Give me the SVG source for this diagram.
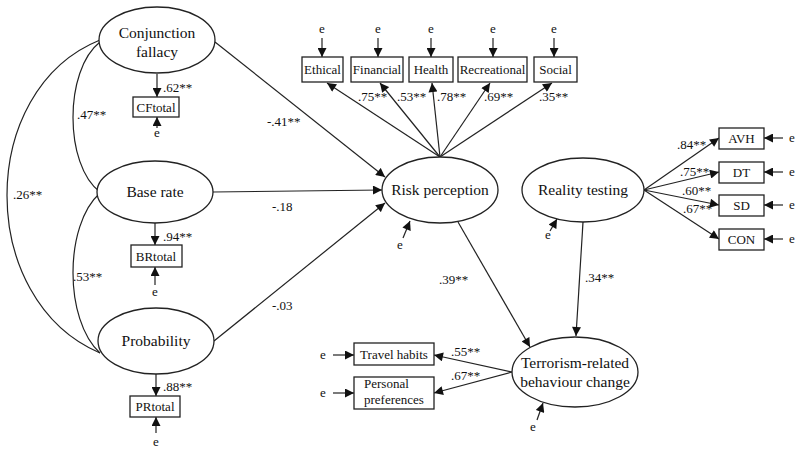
<svg xmlns="http://www.w3.org/2000/svg" width="800" height="452" viewBox="0 0 800 452" font-family="Liberation Serif, Times New Roman, DejaVu Serif, serif">
<defs>
<marker id="ah" viewBox="0 0 10 10" refX="10" refY="5" markerWidth="10" markerHeight="9" markerUnits="userSpaceOnUse" orient="auto">
<path d="M0,0 L10,5 L0,10 z" fill="#111"/>
</marker>
</defs>
<style>
.n{fill:#fff;stroke:#222;stroke-width:1.3}
.b{fill:#fff;stroke:#222;stroke-width:1.3}
.t{font-size:15.5px;text-anchor:middle;fill:#111}
.s{font-size:13px;text-anchor:middle;fill:#111}
.c{font-size:13px;fill:#111}
.l{fill:none;stroke:#222;stroke-width:1.2}
.a{fill:none;stroke:#222;stroke-width:1.2;marker-end:url(#ah)}
</style>
<rect width="800" height="452" fill="#fff"/>
<g id="connectors">
<path class="l" d="M100,40 C-24,90 -24,300 100,353"/>
<path class="l" d="M100,42 C64,70 64,165 100,192"/>
<path class="l" d="M100,193 C64,225 64,320 100,353"/>
<line class="a" x1="157" y1="74" x2="157" y2="97"/>
<line class="a" x1="157" y1="128" x2="157" y2="117"/>
<line class="a" x1="155" y1="223" x2="155" y2="245"/>
<line class="a" x1="155" y1="285" x2="155" y2="267"/>
<line class="a" x1="156" y1="373" x2="156" y2="396"/>
<line class="a" x1="156" y1="433" x2="156" y2="417"/>
<line class="a" x1="215" y1="42" x2="385" y2="177"/>
<line class="a" x1="213" y1="192" x2="382" y2="190"/>
<line class="a" x1="214" y1="341" x2="385" y2="203"/>
<line class="a" x1="440" y1="157" x2="327" y2="83"/>
<line class="a" x1="440" y1="157" x2="380" y2="83"/>
<line class="a" x1="440" y1="157" x2="432" y2="83"/>
<line class="a" x1="440" y1="157" x2="490" y2="83"/>
<line class="a" x1="440" y1="157" x2="552" y2="83"/>
<line class="a" x1="322" y1="38" x2="322" y2="57"/>
<line class="a" x1="378" y1="38" x2="378" y2="57"/>
<line class="a" x1="431" y1="38" x2="431" y2="57"/>
<line class="a" x1="493" y1="38" x2="493" y2="57"/>
<line class="a" x1="554" y1="38" x2="554" y2="57"/>
<line class="a" x1="403" y1="238" x2="410" y2="221"/>
<line class="a" x1="644" y1="190" x2="719" y2="138"/>
<line class="a" x1="644" y1="190" x2="719" y2="172"/>
<line class="a" x1="644" y1="190" x2="719" y2="205"/>
<line class="a" x1="644" y1="190" x2="719" y2="239"/>
<line class="a" x1="783" y1="138" x2="764" y2="138"/>
<line class="a" x1="783" y1="172" x2="764" y2="172"/>
<line class="a" x1="783" y1="205" x2="764" y2="205"/>
<line class="a" x1="783" y1="239" x2="764" y2="239"/>
<line class="a" x1="550" y1="231" x2="557" y2="219"/>
<line class="a" x1="458" y1="222" x2="530" y2="347"/>
<line class="a" x1="583" y1="222" x2="576" y2="336"/>
<line class="a" x1="512" y1="372" x2="434" y2="355"/>
<line class="a" x1="512" y1="372" x2="434" y2="393"/>
<line class="a" x1="333" y1="355" x2="354" y2="355"/>
<line class="a" x1="333" y1="393" x2="354" y2="393"/>
<line class="a" x1="537" y1="420" x2="543" y2="403"/>
</g>
<g id="labels">
<text class="c" x="163" y="92">.62**</text>
<text class="c" x="163" y="241">.94**</text>
<text class="c" x="163" y="391">.88**</text>
<text class="c" x="77" y="119">.47**</text>
<text class="c" x="13" y="199">.26**</text>
<text class="c" x="73" y="281">.53**</text>
<text class="c" x="267" y="126">-.41**</text>
<text class="c" x="272" y="211">-.18</text>
<text class="c" x="272" y="310">-.03</text>
<text class="c" x="358" y="101">.75**</text>
<text class="c" x="397" y="101">.53**</text>
<text class="c" x="437" y="101">.78**</text>
<text class="c" x="484" y="101">.69**</text>
<text class="c" x="539" y="101">.35**</text>
<text class="c" x="677" y="149">.84**</text>
<text class="c" x="680" y="176">.75**</text>
<text class="c" x="682" y="195">.60**</text>
<text class="c" x="683" y="213">.67**</text>
<text class="c" x="439" y="284">.39**</text>
<text class="c" x="585" y="282">.34**</text>
<text class="c" x="451" y="356">.55**</text>
<text class="c" x="451" y="380">.67**</text>
<text class="s" x="157" y="137">e</text>
<text class="s" x="155" y="296">e</text>
<text class="s" x="156" y="446">e</text>
<text class="s" x="322" y="33">e</text>
<text class="s" x="378" y="33">e</text>
<text class="s" x="431" y="33">e</text>
<text class="s" x="493" y="33">e</text>
<text class="s" x="554" y="33">e</text>
<text class="s" x="400" y="249">e</text>
<text class="s" x="548" y="239">e</text>
<text class="s" x="792" y="142">e</text>
<text class="s" x="792" y="176">e</text>
<text class="s" x="792" y="209">e</text>
<text class="s" x="792" y="243">e</text>
<text class="s" x="323" y="359">e</text>
<text class="s" x="323" y="397">e</text>
<text class="s" x="533" y="431">e</text>
</g>
<g id="conjunction-fallacy">
<ellipse class="n" cx="157" cy="40" rx="58" ry="33"/>
<text class="t" x="157" y="38">Conjunction</text>
<text class="t" x="157" y="57">fallacy</text>
</g>
<g id="cftotal">
<rect class="b" x="133" y="97" width="46" height="20"/>
<text class="s" x="156" y="112">CFtotal</text>
</g>
<g id="base-rate">
<ellipse class="n" cx="155" cy="192" rx="58" ry="31"/>
<text class="t" x="155" y="197">Base rate</text>
</g>
<g id="brtotal">
<rect class="b" x="131" y="245" width="51" height="22"/>
<text class="s" x="156" y="261">BRtotal</text>
</g>
<g id="probability">
<ellipse class="n" cx="156" cy="341" rx="58" ry="33"/>
<text class="t" x="156" y="346">Probability</text>
</g>
<g id="prtotal">
<rect class="b" x="130" y="396" width="50" height="21"/>
<text class="s" x="155" y="411">PRtotal</text>
</g>
<g id="risk-perception">
<ellipse class="n" cx="440" cy="190" rx="58" ry="33"/>
<text class="t" x="440" y="195">Risk perception</text>
</g>
<g id="ethical">
<rect class="b" x="302" y="57" width="41" height="25"/>
<text class="s" x="322.5" y="74">Ethical</text>
</g>
<g id="financial">
<rect class="b" x="351" y="57" width="52" height="25"/>
<text class="s" x="377" y="74">Financial</text>
</g>
<g id="health">
<rect class="b" x="409" y="57" width="44" height="25"/>
<text class="s" x="431" y="74">Health</text>
</g>
<g id="recreational">
<rect class="b" x="458" y="57" width="69" height="25"/>
<text class="s" x="492.5" y="74">Recreational</text>
</g>
<g id="social">
<rect class="b" x="534" y="57" width="43" height="25"/>
<text class="s" x="555.5" y="74">Social</text>
</g>
<g id="reality-testing">
<ellipse class="n" cx="583" cy="190" rx="61" ry="32"/>
<text class="t" x="583" y="195">Reality testing</text>
</g>
<g id="avh">
<rect class="b" x="719" y="128" width="45" height="21"/>
<text class="s" x="741.5" y="143">AVH</text>
</g>
<g id="dt">
<rect class="b" x="719" y="162" width="45" height="21"/>
<text class="s" x="741.5" y="177">DT</text>
</g>
<g id="sd">
<rect class="b" x="719" y="195" width="45" height="21"/>
<text class="s" x="741.5" y="210">SD</text>
</g>
<g id="con">
<rect class="b" x="719" y="229" width="45" height="21"/>
<text class="s" x="741.5" y="244">CON</text>
</g>
<g id="terrorism-behaviour-change">
<ellipse class="n" cx="575" cy="372" rx="63" ry="35"/>
<text class="t" x="575" y="368">Terrorism-related</text>
<text class="t" x="575" y="387">behaviour change</text>
</g>
<g id="travel-habits">
<rect class="b" x="354" y="343" width="80" height="22"/>
<text class="s" x="394" y="359">Travel habits</text>
</g>
<g id="personal-preferences">
<rect class="b" x="354" y="377" width="80" height="32"/>
<text class="c" x="364" y="388">Personal</text>
<text class="c" x="364" y="404">preferences</text>
</g>
</svg>
